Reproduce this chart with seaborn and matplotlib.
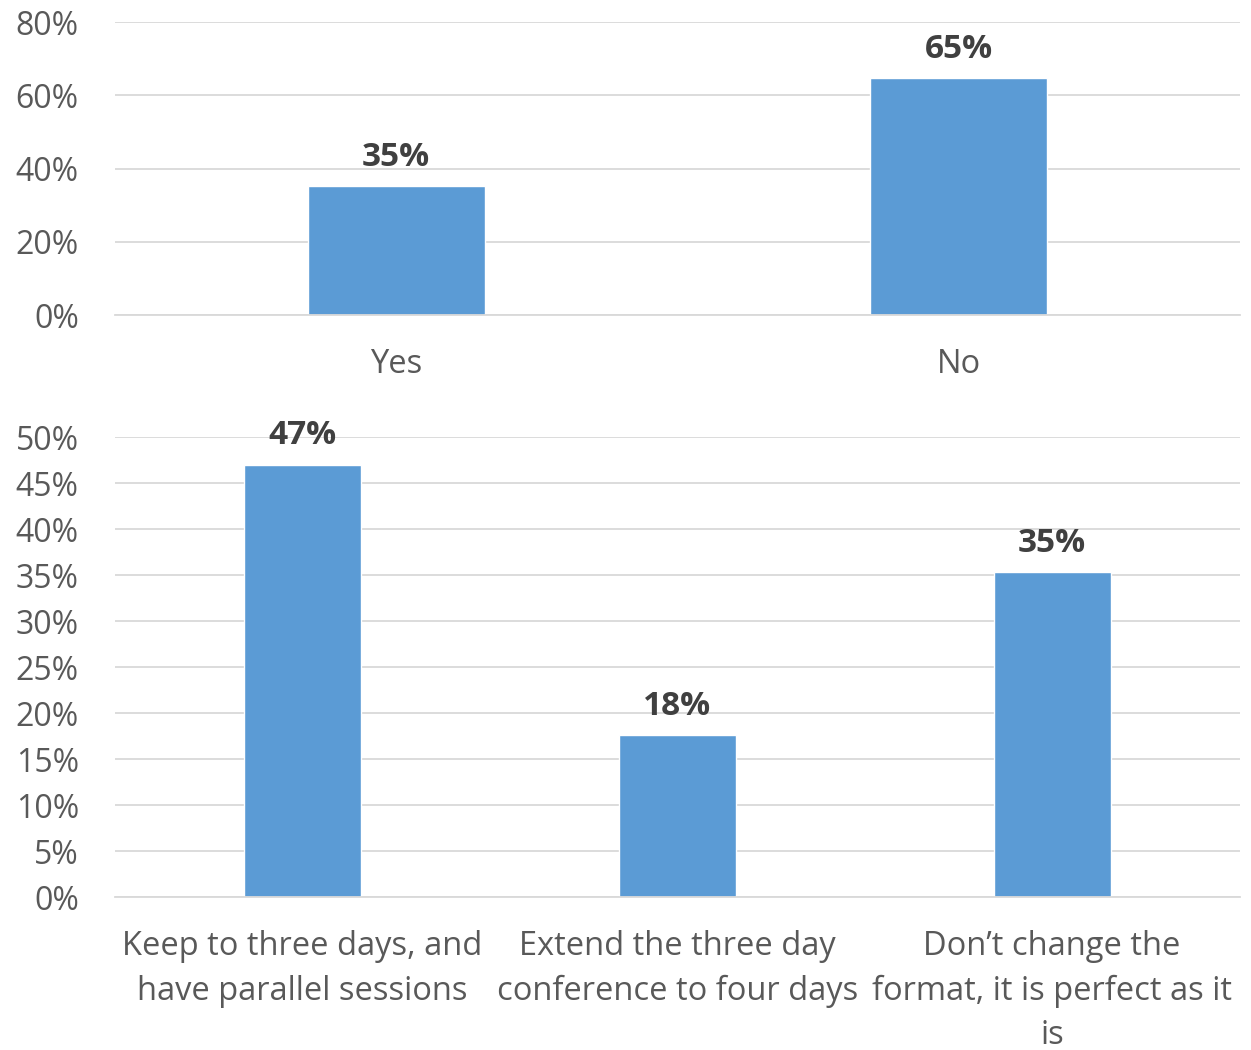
import matplotlib
matplotlib.use("Agg")
import matplotlib.pyplot as plt
import seaborn as sns
import pandas as pd
from matplotlib.ticker import PercentFormatter

# --- DATA ---
top_categories = ["Yes", "No"]
top_values = [0.352, 0.647]

bottom_categories = [
    "Keep to three days, and\nhave parallel sessions",
    "Extend the three day\nconference to four days",
    "Don\u2019t change the\nformat, it is perfect as it\nis",
]
bottom_values = [0.47, 0.176, 0.353]

BAR_COLOR = "#5B9BD5"
GRID_COLOR = "#D9D9D9"
TEXT_COLOR = "#595959"
LABEL_COLOR = "#404040"

sns.set_theme(style="white")
plt.rcParams["font.family"] = ["Open Sans", "DejaVu Sans"]

fig = plt.figure(figsize=(12.51, 10.5), dpi=100)
ax_top = fig.add_axes([0.0919, 0.700, 0.899, 0.279])
ax_bot = fig.add_axes([0.0919, 0.1457, 0.899, 0.4381])


def style_axis(ax, ymax, step):
    ax.set_ylim(0, ymax)
    ax.set_yticks([i * step for i in range(int(round(ymax / step)) + 1)])
    ax.yaxis.set_major_formatter(PercentFormatter(1.0, decimals=0))
    ax.grid(axis="y", color=GRID_COLOR, linewidth=1.3)
    ax.set_axisbelow(True)
    for s in ["top", "right", "left"]:
        ax.spines[s].set_visible(False)
    ax.spines["bottom"].set_color(GRID_COLOR)
    ax.spines["bottom"].set_linewidth(1.3)
    ax.tick_params(axis="both", length=0, colors=TEXT_COLOR)
    ax.tick_params(axis="x", pad=24, labelsize=23.5)
    ax.tick_params(axis="y", pad=26, labelsize=23)
    ax.set_xlabel("")
    ax.set_ylabel("")


top_df = pd.DataFrame({"cat": top_categories, "val": top_values})
sns.barplot(data=top_df, x="cat", y="val", color=BAR_COLOR, width=0.315,
            saturation=1, ax=ax_top)
style_axis(ax_top, 0.8, 0.2)
ax_top.bar_label(ax_top.containers[0], labels=[f"{v:.0%}" for v in top_values],
                 padding=9, fontsize=24, fontweight="bold", color=LABEL_COLOR)

bot_df = pd.DataFrame({"cat": bottom_categories, "val": bottom_values})
sns.barplot(data=bot_df, x="cat", y="val", color=BAR_COLOR, width=0.312,
            saturation=1, ax=ax_bot)
style_axis(ax_bot, 0.5, 0.05)
ax_bot.bar_label(ax_bot.containers[0], labels=[f"{v:.0%}" for v in bottom_values],
                 padding=9, fontsize=24, fontweight="bold", color=LABEL_COLOR)
for lbl in ax_bot.get_xticklabels():
    lbl.set_linespacing(1.45)

fig.savefig("out.png", dpi=100)
